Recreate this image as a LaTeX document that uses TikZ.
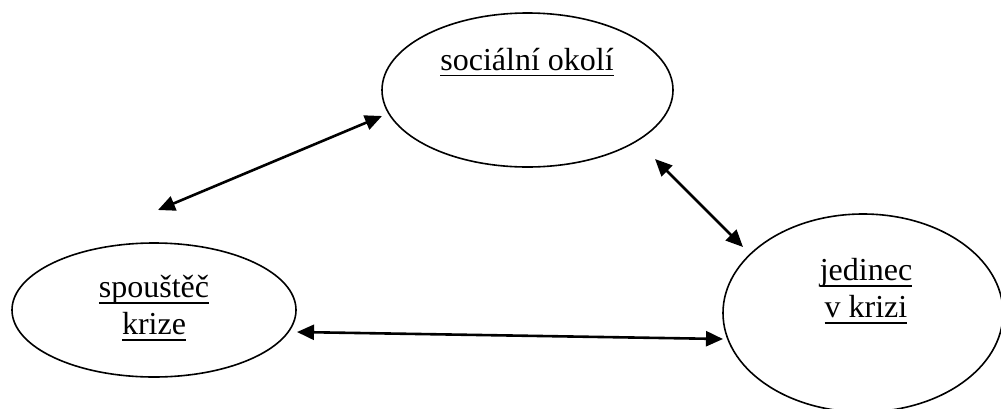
\documentclass[tikz,border=0pt]{standalone}
\usepackage{fontspec}
\setmainfont{Liberation Serif}
\newsavebox{\ulinbox}
\newcommand{\ulin}[1]{\sbox{\ulinbox}{#1}\rlap{\rule[-6pt]{\wd\ulinbox}{1.6pt}}\usebox{\ulinbox}}
\usetikzlibrary{shapes.geometric,arrows.meta}

\begin{document}
\begin{tikzpicture}[x=1pt, y=-1pt, blob/.style = {shape=ellipse, draw, line width=1.6pt, inner sep=0pt}, txt/.style = {align=center, inner sep=0pt, font=\fontsize{32}{37}\selectfont}, link/.style = {{Triangle[length=17pt,width=15pt]}-{Triangle[length=17pt,width=15pt]}, line width=2.6pt}]
\useasboundingbox (0,0) rectangle (1001,408);
% ellipses
\node[blob, minimum width=291, minimum height=154] (okoli) at (527.5,90) {};
\node[blob, minimum width=284, minimum height=134] (spoustec) at (154,310) {};
\node[blob, minimum width=280, minimum height=198] (jedinec) at (863,313) {};
% texts
\node[txt] (okolitxt) at (527,62) {\ulin{sociální okolí}};
\node[txt] (spoustectxt) at (154,308) {\ulin{spouštěč}\\\ulin{krize}};
\node[txt] (jedinectxt) at (866,291) {\ulin{jedinec}\\\ulin{v krizi}};
% arrow ends
\coordinate (a1) at (158,210);
\coordinate (a2) at (382,116);
\coordinate (b1) at (655,159);
\coordinate (b2) at (743,247);
\coordinate (c1) at (297,332);
\coordinate (c2) at (723,339);
\draw[link] (a1) -- (a2);
\draw[link] (b1) -- (b2);
\draw[link] (c1) -- (c2);
\end{tikzpicture}
\end{document}
